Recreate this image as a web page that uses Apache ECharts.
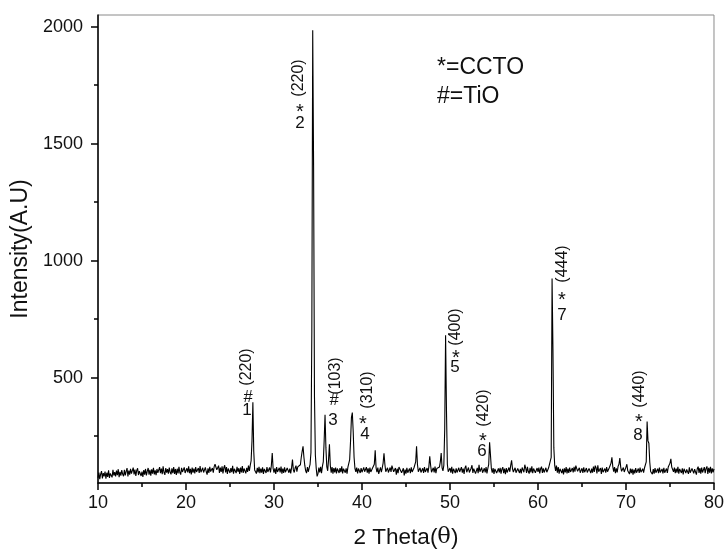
<!DOCTYPE html>
<html>
<head>
<meta charset="utf-8">
<script src="https://cdn.jsdelivr.net/npm/echarts@6/dist/echarts.min.js"></script>
<style>
html,body{margin:0;padding:0;background:#fff;}
#chart{width:727px;height:554px;}
</style>
</head>
<body>
<div id="chart"></div>
<script>
// Scan grid (2θ, degrees)
const scanStart = 10;
const scanStep = 0.1;
// Intensity, one value per 0.1°, 10.0 … 80.0
const intensity = [
 72, 95, 66, 88,101, 70, 92, 78, 99, 68,
 94, 76,104, 72, 91, 98, 74,106, 82, 96,
 78,103, 84,109, 75, 98, 81,105, 88, 79,
106, 82,100,114, 78,103, 86,111, 90, 84,
116, 87,107, 80,104,113, 84,101,109, 80,
 99, 76,105, 86,110, 82,101,114, 86,106,
 81,108, 90,115, 87,104, 83,110, 93, 88,
118, 92,112, 88,121, 95, 85,114, 94,109,
 90,116, 96, 87,113, 92,118, 89,110, 84,
111, 91,119, 95, 86,115, 97, 90,117, 93,
 88,113, 95,121, 92,110, 87,116, 94,112,
 91,118, 97, 89,114, 93,122, 96, 88,115,
 95, 90,117, 98, 86,113, 93,119, 99, 91,
114, 94,120,130,136,106,110,124, 93,116,
 97,121, 91,115,126, 95,118, 89,112,120,
 93,114, 96,123, 90,111,117, 92,119, 98,
113, 89,116, 95,122, 93,112,118, 91,115,
 97,124,102,125,145,230,395,185,106,110,
 90,115, 95,119, 92,112, 94,117, 89,110,
114, 93,118, 97, 91,116, 95,125,178,112,
 94,113, 89,118, 97, 92,115, 95,120, 90,
112, 93,117, 96, 88,114,119, 94,111, 91,
116,150,106, 95,114,124, 98,119,126,120,
128,160,185,207,160,125,102, 92,118, 98,
115,130,180,700,1985,1400,420,170,112, 78,
 90,116, 95,119, 92,121,140,230,342,200,
120,102,150,215,125, 94,118, 90,114, 95,
116, 91,112,120, 93,114, 96,121, 91,111,
117, 94,113, 90,118,125,150,230,330,351,
270,160,112, 98,116, 91,112,119, 93,114,
 96, 89,117, 98, 92,118, 94,113, 90,116,
 97, 91,114,121,130,190,115, 96,116, 89,
 93,117, 96,114,135,177,130, 98, 91,115,
 95, 89,116, 97,124,132, 98, 90,114, 86,
111, 92,118,124,126, 94, 88,113, 82,107,
 90,115, 94, 86,112, 92,117, 97, 89,114,
118,140,207,130, 98, 91,115, 95, 88,113,
 93,118, 97, 90,114, 94,120,164,125, 96,
 90,115, 95,120, 92,112,118,106,118,140,
178,115,102,125,280,681,360,130, 98, 91,
114, 94,119, 90,111,116, 92,113, 95, 88,
115, 97, 91,118, 94,112, 89,114,124, 96,
 91,116, 95, 88,113,126, 93,111,118, 90,
 97,115, 92,128, 98, 90,116, 94, 87,113,
 95,118, 91,112,130,224,170,112, 94,114,
 89,110,117, 93, 86,112, 95,115, 90,109,
118, 92,111, 88,114, 95, 91,116, 98,125,
147,112, 97, 90,115, 94, 87,112,118, 93,
110, 91,116,124, 96,128,114, 93,119, 99,
 90,115, 95,121, 92,112,118, 94, 88,114,
 97,116, 91,111,120, 93,113, 95, 89,115,
 96, 90,114,121,115,160,924,620,200,125,
102,124, 94,118, 90,111,116, 92,110, 87,
113, 95,118, 91,112, 93,116, 97, 89,114,
 95,119, 98,124,126,100, 92,115, 94, 88,
113, 93,117, 96, 90,114, 95, 87,112,118,
 92,111, 94,120, 97,124,115, 91,126, 98,
 93,114, 89,116, 96, 91,112, 94,118, 98,
 90,115,122,135,160,120, 98,118, 92,113,
 95,121,130,157,118,100, 93,116, 97, 91,
118,130,102, 94, 88,112, 92,110, 86,107,
 91,114, 94, 88,112, 93,116, 96, 90,111,
 94,114,115,140,313,230,220,140, 99,104,
 88,109, 90,114, 94, 86,111, 92,116, 95,
 89,110, 91,115, 94, 87,112, 93,118,120,
135,153,118,125, 98,116, 92,112, 94,119,
 90,110,116, 93,113, 87,111,118, 92,108,
114, 89,117, 94, 88,112,119, 91,109,115,
 86,111,120, 93,114, 90,116, 95, 88,118,
 92,112,121, 89,115, 94,119, 91,113, 95,
110
];
const xTicks = [10, 20, 30, 40, 50, 60, 70, 80];
const yTickLabels = [500, 1000, 1500, 2000];
const yMinorTicks = [250, 750, 1250, 1750];
// Peak annotations: peak number, phase symbol, reflection
const peakNumbers = ['1', '2', '3', '4', '5', '6', '7', '8'];
const peakSymbols = ['#', '*', '#', '*', '*', '*', '*', '*'];
const peakHkl = ['(220)', '(220)', '(103)', '(310)', '(400)', '(420)', '(444)', '(440)'];
const legendLines = ['*=CCTO', '#=TiO'];

const trace = intensity.map((v, i) => [+(scanStart + i * scanStep).toFixed(1), v]);

// label layout (pixel positions of each annotation piece)
const hklPos = [[247,367],[299,78],[336,376],[368,390],[456,327],[484,408],[563,264],[640,389]];
const symPos = [[248,397],[300,107],[334,400],[363,419],[456,353],[483,436],[562,295],[639,417]];
const numPos = [[247,410],[300,123],[333,420],[365,434],[455,367],[482,451],[562,315],[638,435]];

const FONT = "'Liberation Sans', Arial, Helvetica, sans-serif";
const graphics = [];
for (let i = 0; i < peakNumbers.length; i++) {
  graphics.push({type:'text', x:hklPos[i][0], y:hklPos[i][1], rotation:Math.PI/2,
    style:{text:peakHkl[i], fontSize:16, fontFamily:FONT, fill:'#111', align:'center', verticalAlign:'middle'}});
  const isStar = peakSymbols[i] === '*';
  graphics.push({type:'text', x:symPos[i][0], y:symPos[i][1] + (isStar ? 5 : 0),
    style:{text:peakSymbols[i], fontSize:isStar ? 20 : 16.5, fontFamily:FONT, fill:'#111', align:'center', verticalAlign:'middle'}});
  graphics.push({type:'text', x:numPos[i][0], y:numPos[i][1],
    style:{text:peakNumbers[i], fontSize:17, fontFamily:FONT, fill:'#111', align:'center', verticalAlign:'middle'}});
}
graphics.push({type:'text', x:437, y:68, style:{text:legendLines[0], fontSize:23, fontFamily:FONT, fill:'#111', align:'left', verticalAlign:'middle'}});
graphics.push({type:'text', x:437, y:97, style:{text:legendLines[1], fontSize:23, fontFamily:FONT, fill:'#111', align:'left', verticalAlign:'middle'}});

const chart = echarts.init(document.getElementById('chart'), null, {renderer:'canvas'});
chart.setOption({
  animation: false,
  backgroundColor: '#ffffff',
  grid: {left: 98, right: 13, top: 15, bottom: 67, show: true, borderColor: '#8a8a8a', borderWidth: 1, containLabel: false},
  xAxis: {
    type: 'value', min: 10, max: 80, interval: 10,
    name: '2 Theta({t|θ})', nameLocation: 'middle', nameGap: 43,
    nameTextStyle: {fontSize: 22.5, fontFamily: FONT, color: '#111',
      rich: {t: {fontSize: 22.5, fontFamily: "'DejaVu Serif', 'Liberation Serif', serif", color: '#111'}}},
    axisLine: {show: true, onZero: false, lineStyle: {color: '#000', width: 1.5}},
    axisTick: {show: true, inside: false, length: 7, lineStyle: {color: '#000', width: 1.5}},
    minorTick: {show: true, splitNumber: 2, length: 4, lineStyle: {color: '#000', width: 1.5}},
    axisLabel: {fontSize: 18, fontFamily: FONT, color: '#111', margin: 11,
      customValues: xTicks, formatter: v => String(v)},
    splitLine: {show: false}
  },
  yAxis: [{
    type: 'value', min: 50, max: 2050, position: 'left',
    name: 'Intensity(A.U)', nameLocation: 'middle', nameGap: 62, nameRotate: 90,
    nameTextStyle: {fontSize: 23, fontFamily: FONT, color: '#111'},
    axisLine: {show: true, onZero: false, lineStyle: {color: '#000', width: 1.5}},
    axisTick: {show: true, inside: false, length: 7, customValues: yTickLabels, lineStyle: {color: '#000', width: 1.5}},
    axisLabel: {fontSize: 18, fontFamily: FONT, color: '#111', margin: 15, customValues: yTickLabels,
      formatter: v => String(v)},
    splitLine: {show: false}
  }, {
    type: 'value', min: 50, max: 2050, position: 'left', offset: 0,
    axisLine: {show: false},
    axisTick: {show: true, inside: false, length: 4, customValues: yMinorTicks, lineStyle: {color: '#000', width: 1.5}},
    axisLabel: {show: false},
    splitLine: {show: false}
  }],
  series: [{
    type: 'line', data: trace, showSymbol: false, symbol: 'none',
    lineStyle: {color: '#000', width: 1.1}, silent: true, z: 3
  }],
  graphic: graphics
});
</script>
</body>
</html>
